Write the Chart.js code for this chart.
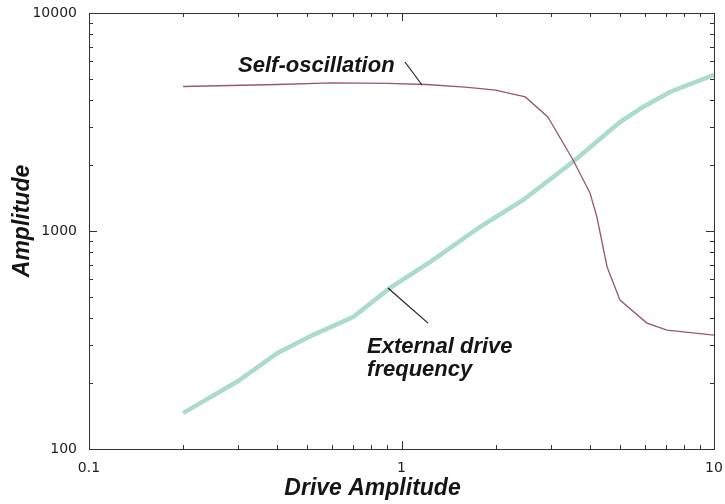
<!DOCTYPE html>
<html>
<head>
<meta charset="utf-8">
<script src="https://cdn.jsdelivr.net/npm/chart.js@4/dist/chart.umd.min.js"></script>
<style>
html,body{margin:0;padding:0;background:#fff;}
#wrap{width:725px;height:504px;position:relative;}
</style>
</head>
<body>
<div id="wrap"><canvas id="c" width="725" height="504"></canvas></div>
<script>
// ---- data ----
const selfOscX = [0.2, 0.4, 0.6, 0.9, 1.2, 1.6, 2.0, 2.49, 2.94, 3.54, 4.01, 4.22, 4.55, 5.0, 6.1, 7.07, 10];
const selfOscY = [4600, 4700, 4780, 4760, 4700, 4570, 4430, 4120, 3334, 2117, 1494, 1159, 684, 482, 378, 351, 333];

const extDriveX = [0.2, 0.3, 0.4, 0.52, 0.7, 0.92, 1.26, 1.78, 2.45, 3.54, 5.0, 5.93, 7.23, 10];
const extDriveY = [146, 205, 275, 333, 403, 548, 736, 1043, 1388, 2080, 3162, 3706, 4341, 5200];

const xTickLabels = [0.1, 1, 10];
const yTickLabels = [100, 1000, 10000];

const xTitle = 'Drive Amplitude';
const yTitle = 'Amplitude';

// annotation texts anchored in data space
const annotSelfText = ['Self-oscillation'];
const annotSelfAnchor = [0.30, 5360];
const annotSelfLeader = [[1.026, 5960], [1.163, 4674]];
const annotExtText = ['External drive', 'frequency'];
const annotExtAnchor = [0.776, 275];
const annotExtLeader = [[0.905, 548], [1.216, 378]];

// ---- plugins ----
const framePlugin = {
  id: 'frame',
  afterDatasetsDraw(chart) {
    const {ctx, chartArea: a, scales} = chart;
    const xs = scales.x, ys = scales.y;
    ctx.save();
    ctx.strokeStyle = '#333';
    ctx.lineWidth = 1;
    ctx.strokeRect(Math.round(a.left) + 0.5, Math.round(a.top) + 0.5,
                   Math.round(a.right - a.left), Math.round(a.bottom - a.top));
    ctx.beginPath();
    for (let e = -1; e <= 0; e++) {
      for (let m = 1; m <= 9; m++) {
        const v = m * Math.pow(10, e);
        if (v <= xs.min || v >= xs.max) continue;
        const p = Math.round(xs.getPixelForValue(v)) + 0.5;
        const len = (m === 1) ? 8 : 4;
        ctx.moveTo(p, a.bottom); ctx.lineTo(p, a.bottom - len);
        ctx.moveTo(p, a.top); ctx.lineTo(p, a.top + len);
      }
    }
    for (let e = 2; e <= 3; e++) {
      for (let m = 1; m <= 9; m++) {
        const v = m * Math.pow(10, e);
        if (v <= ys.min || v >= ys.max) continue;
        const p = Math.round(ys.getPixelForValue(v)) + 0.5;
        const len = (m === 1) ? 8 : 4;
        ctx.moveTo(a.left, p); ctx.lineTo(a.left + len, p);
        ctx.moveTo(a.right, p); ctx.lineTo(a.right - len, p);
      }
    }
    ctx.stroke();

    // annotations
    ctx.fillStyle = '#151515';
    ctx.font = 'italic bold 22px "Liberation Sans", Arial, sans-serif';
    ctx.textBaseline = 'alphabetic';
    ctx.textAlign = 'left';
    const drawText = (lines, anchor) => {
      const x0 = xs.getPixelForValue(anchor[0]);
      const y0 = ys.getPixelForValue(anchor[1]);
      lines.forEach((t, i) => ctx.fillText(t, x0, y0 + i * 23));
    };
    drawText(annotSelfText, annotSelfAnchor);
    drawText(annotExtText, annotExtAnchor);
    ctx.strokeStyle = '#222';
    ctx.lineWidth = 1.2;
    [annotSelfLeader, annotExtLeader].forEach(L => {
      ctx.beginPath();
      ctx.moveTo(xs.getPixelForValue(L[0][0]), ys.getPixelForValue(L[0][1]));
      ctx.lineTo(xs.getPixelForValue(L[1][0]), ys.getPixelForValue(L[1][1]));
      ctx.stroke();
    });

    // axis titles (offset from centre as in the reference)
    ctx.font = 'italic bold 23px "Liberation Sans", Arial, sans-serif';
    ctx.textAlign = 'center';
    ctx.textBaseline = 'middle';
    ctx.fillText(xTitle, (a.left + a.right) / 2 - 29, 489);
    ctx.save();
    ctx.translate(23, (a.top + a.bottom) / 2 - 10);
    ctx.rotate(-Math.PI / 2);
    ctx.fillText(yTitle, 0, 0);
    ctx.restore();
    ctx.restore();
  }
};

const toPts = (xs, ys) => xs.map((x, i) => ({x: x, y: ys[i]}));
const zeroPad = s => { s.paddingTop = 0; s.paddingBottom = 0; s.paddingLeft = 0; s.paddingRight = 0; };

new Chart(document.getElementById('c'), {
  type: 'line',
  data: {
    datasets: [
      {
        label: 'Self-oscillation',
        data: toPts(selfOscX, selfOscY),
        borderColor: '#9a5866',
        borderWidth: 1.3,
        pointRadius: 0,
        tension: 0,
        fill: false
      },
      {
        label: 'External drive frequency',
        data: toPts(extDriveX, extDriveY),
        borderColor: '#abdbc9',
        borderWidth: 4.5,
        pointRadius: 0,
        tension: 0,
        fill: false
      }
    ]
  },
  options: {
    responsive: false,
    animation: false,
    events: [],
    layout: {padding: {top: 13, right: 11, left: 0, bottom: 0}},
    plugins: {legend: {display: false}, tooltip: {enabled: false}},
    scales: {
      x: {
        type: 'logarithmic',
        position: 'bottom',
        min: 0.1, max: 10,
        grid: {display: false, drawTicks: false},
        border: {display: false},
        afterBuildTicks: s => { s.ticks = xTickLabels.map(v => ({value: v})); },
        afterFit: s => { s.height = 55; zeroPad(s); },
        ticks: {
          autoSkip: false, maxRotation: 0, padding: 11,
          color: '#222',
          font: {family: '"DejaVu Sans"', size: 14},
          callback: v => String(v)
        },
        title: {display: false}
      },
      y: {
        type: 'logarithmic',
        position: 'left',
        min: 100, max: 10000,
        grid: {display: false, drawTicks: false},
        border: {display: false},
        afterBuildTicks: s => { s.ticks = yTickLabels.map(v => ({value: v})); },
        afterFit: s => { s.width = 89; zeroPad(s); },
        ticks: {
          autoSkip: false, padding: 12,
          color: '#222',
          font: {family: '"DejaVu Sans"', size: 14},
          callback: v => String(v)
        },
        title: {display: false}
      }
    }
  },
  plugins: [framePlugin]
});
</script>
</body>
</html>
